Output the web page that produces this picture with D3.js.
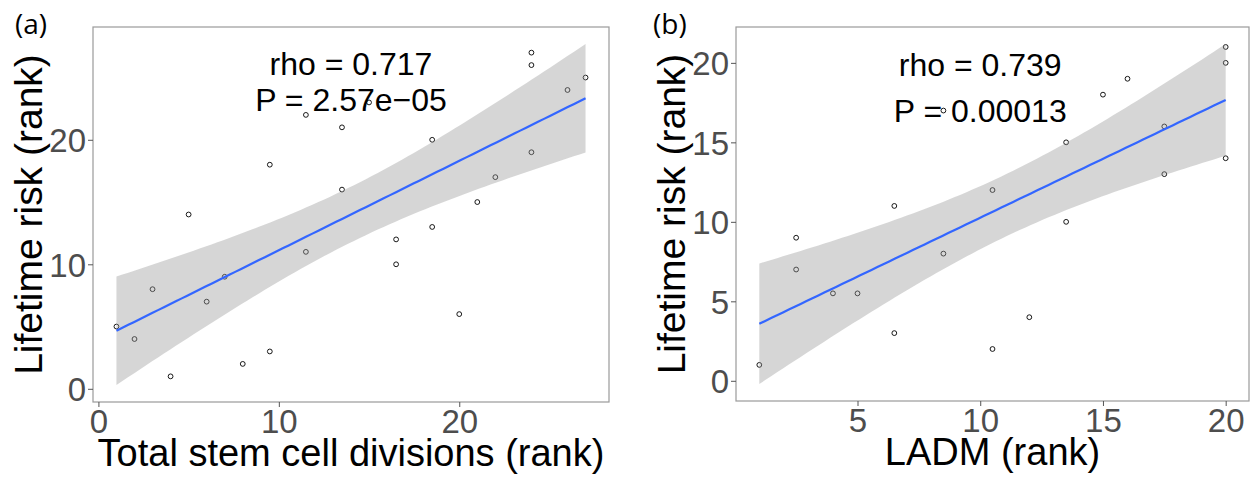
<!DOCTYPE html>
<html>
<head>
<meta charset="utf-8">
<script src="https://cdn.jsdelivr.net/npm/d3@7"></script>
<style>
  body { margin: 0; background: #fff; }
  svg text { font-family: "Liberation Sans", Arial, Helvetica, sans-serif; }
</style>
</head>
<body>
<svg id="chart" width="1258" height="478"></svg>
<script>
// panel (a): total stem cell divisions rank vs lifetime risk rank
const divisionsRank = [1, 2, 3, 4, 5, 6, 7, 8, 9.5, 9.5, 11.5, 11.5, 13.5, 13.5, 15, 16.5, 16.5, 18.5, 18.5, 20, 21, 22, 24, 24, 24, 26, 27];
const riskRankA = [5, 4, 8, 1, 14, 7, 9, 2, 18, 3, 22, 11, 21, 16, 23, 12, 10, 20, 13, 6, 15, 17, 27, 26, 19, 24, 25];

// panel (b): LADM rank vs lifetime risk rank
const ladmRank = [1, 2.5, 2.5, 4, 5, 6.5, 6.5, 8.5, 8.5, 10.5, 10.5, 12, 13.5, 13.5, 15, 16, 17.5, 17.5, 20, 20, 20];
const riskRankB = [1, 9, 7, 5.5, 5.5, 11, 3, 17, 8, 12, 2, 4, 15, 10, 18, 19, 16, 13, 21, 20, 14];

const ticksAX = [0, 10, 20];
const ticksAY = [0, 10, 20];
const ticksBX = [5, 10, 15, 20];
const ticksBY = [0, 5, 10, 15, 20];

const statsA = ['rho = 0.717', 'P = 2.57e\u221205'];
const statsB = ['rho = 0.739', 'P = 0.00013'];

// t quantile (0.975) for n - 2 degrees of freedom
const T_CRIT = { 25: 2.059539, 19: 2.093024 };

const svg = d3.select('#chart');

const fitLine = (xs, ys) => {
  const n = xs.length;
  const mx = d3.mean(xs);
  const my = d3.mean(ys);
  let sxx = 0;
  let sxy = 0;
  xs.forEach((x, i) => {
    sxx += (x - mx) ** 2;
    sxy += (x - mx) * (ys[i] - my);
  });
  const b = sxy / sxx;
  const a = my - b * mx;
  let sse = 0;
  xs.forEach((x, i) => { sse += (ys[i] - (a + b * x)) ** 2; });
  const s = Math.sqrt(sse / (n - 2));
  const t = T_CRIT[n - 2];
  const [x0, x1] = d3.extent(xs);
  const pts = d3.range(80).map((k) => {
    const x = x0 + (x1 - x0) * k / 79;
    const fit = a + b * x;
    const se = s * Math.sqrt(1 / n + (x - mx) ** 2 / sxx);
    return { x, fit, lo: fit - t * se, hi: fit + t * se };
  });
  return pts;
};

const expand = ([lo, hi]) => {
  const pad = (hi - lo) * 0.05;
  return [lo - pad, hi + pad];
};

const drawPanel = (cfg) => {
  const { left, top, width, height } = cfg;
  const fit = fitLine(cfg.xs, cfg.ys);

  const xDomain = expand(d3.extent(cfg.xs));
  const yDomain = expand([
    Math.min(d3.min(cfg.ys), d3.min(fit, (d) => d.lo)),
    Math.max(d3.max(cfg.ys), d3.max(fit, (d) => d.hi)),
  ]);

  const x = d3.scaleLinear().domain(xDomain).range([left, left + width]);
  const y = d3.scaleLinear().domain(yDomain).range([top + height, top]);

  const g = svg.append('g');

  g.append('rect')
    .attr('x', left).attr('y', top)
    .attr('width', width).attr('height', height)
    .attr('fill', '#fff');

  g.selectAll('circle.pt')
    .data(cfg.xs.map((v, i) => [v, cfg.ys[i]]))
    .join('circle')
    .attr('class', 'pt')
    .attr('cx', (d) => x(d[0]))
    .attr('cy', (d) => y(d[1]))
    .attr('r', 2.4)
    .attr('fill', 'none')
    .attr('stroke', '#000')
    .attr('stroke-width', 0.9);

  g.append('path')
    .datum(fit)
    .attr('d', d3.area().x((d) => x(d.x)).y0((d) => y(d.lo)).y1((d) => y(d.hi)))
    .attr('fill', '#999999')
    .attr('fill-opacity', 0.4);

  g.append('path')
    .datum(fit)
    .attr('d', d3.line().x((d) => x(d.x)).y((d) => y(d.fit)))
    .attr('fill', 'none')
    .attr('stroke', '#3366FF')
    .attr('stroke-width', 2.2);

  // border
  g.append('rect')
    .attr('x', left).attr('y', top)
    .attr('width', width).attr('height', height)
    .attr('fill', 'none')
    .attr('stroke', '#9a9a9a')
    .attr('stroke-width', 1.2);

  const xAxis = g.append('g')
    .attr('transform', `translate(0,${top + height})`)
    .call(d3.axisBottom(x).tickValues(cfg.xTicks).tickSize(5).tickPadding(2).tickFormat(d3.format('d')));
  const yAxis = g.append('g')
    .attr('transform', `translate(${left},0)`)
    .call(d3.axisLeft(y).tickValues(cfg.yTicks).tickSize(5).tickPadding(2).tickFormat(d3.format('d')));

  [xAxis, yAxis].forEach((ax) => {
    ax.select('.domain').remove();
    ax.selectAll('line').attr('stroke', '#555').attr('stroke-width', 1);
    ax.selectAll('text')
      .attr('fill', '#4d4d4d')
      .style('font-size', '33px')
      .style('font-family', '"Liberation Sans", Arial, sans-serif');
  });
  xAxis.selectAll('text').attr('dy', '0.72em');
  yAxis.selectAll('text').attr('dy', '0.36em');

  // stats annotation
  cfg.stats.forEach((line, i) => {
    g.append('text')
      .attr('x', x(cfg.statX))
      .attr('y', y(cfg.statY[i]))
      .attr('text-anchor', 'middle')
      .style('font-size', '32px')
      .attr('fill', '#000')
      .text(line);
  });

  // axis titles
  g.append('text')
    .attr('x', left + width / 2)
    .attr('y', top + height + 64)
    .attr('text-anchor', 'middle')
    .style('font-size', '38px')
    .attr('fill', '#000')
    .text(cfg.xTitle);

  g.append('text')
    .attr('transform', `translate(${left - 51},${top + height / 2}) rotate(-90)`)
    .attr('text-anchor', 'middle')
    .style('font-size', '39px')
    .attr('fill', '#000')
    .text('Lifetime risk (rank)');

  g.append('text')
    .attr('x', cfg.tagX)
    .attr('y', 34)
    .style('font-family', '"Open Sans", sans-serif')
    .style('font-size', '28px')
    .attr('fill', '#000')
    .text(cfg.tag);
};

drawPanel({
  left: 93, top: 27, width: 516, height: 375,
  xs: divisionsRank, ys: riskRankA,
  xTicks: ticksAX, yTicks: ticksAY,
  stats: statsA, statX: 14, statY: [25.2, 22.3],
  xTitle: 'Total stem cell divisions (rank)',
  tag: '(a)', tagX: 15,
});

drawPanel({
  left: 736, top: 27, width: 513, height: 374,
  xs: ladmRank, ys: riskRankB,
  xTicks: ticksBX, yTicks: ticksBY,
  stats: statsB, statX: 10, statY: [19.2, 16.25],
  xTitle: 'LADM (rank)',
  tag: '(b)', tagX: 653,
});
</script>
</body>
</html>
